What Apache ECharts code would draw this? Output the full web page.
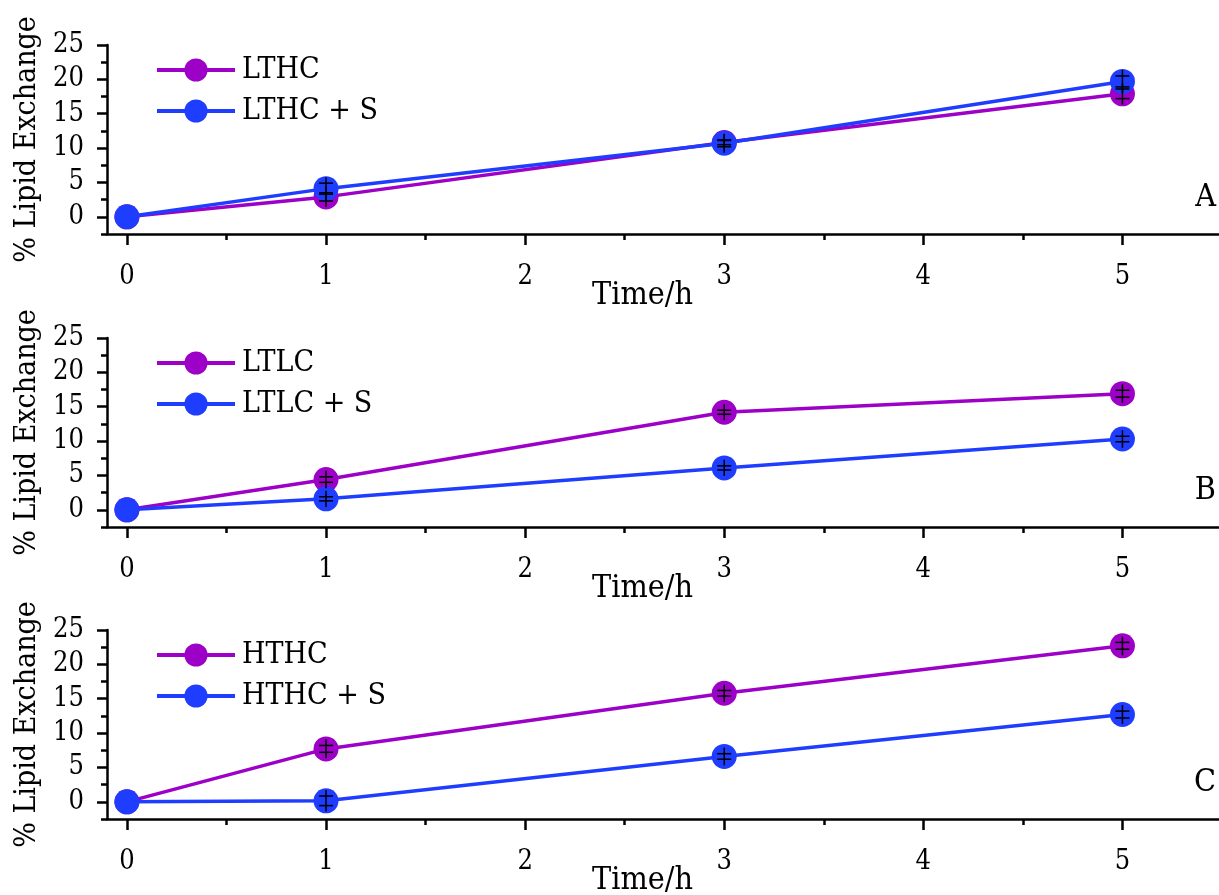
<!DOCTYPE html>
<html>
<head>
<meta charset="utf-8">
<script src="https://cdn.jsdelivr.net/npm/echarts@6/dist/echarts.min.js"></script>
<style>
html,body{margin:0;padding:0;background:#fff;}
#chart{width:1219px;height:895px;}
</style>
</head>
<body>
<div id="chart"></div>
<script>
// ---- data ----
const times = [0, 1, 3, 5];
const xMajorTicks = [0, 1, 2, 3, 4, 5];
const xMinorTicks = [0.5, 1.5, 2.5, 3.5, 4.5];
const yMajorTicks = [0, 5, 10, 15, 20, 25];
const yMinorTicks = [-2.5, 2.5, 7.5, 12.5, 17.5, 22.5];

const panelLabels = ['A', 'B', 'C'];
const seriesNamesA = ['LTHC', 'LTHC + S'];
const seriesNamesB = ['LTLC', 'LTLC + S'];
const seriesNamesC = ['HTHC', 'HTHC + S'];

const lthc = [0, 2.9, 10.8, 17.9];
const lthcS = [0, 4.1, 10.7, 19.7];
const ltlc = [0, 4.4, 14.2, 16.9];
const ltlcS = [0, 1.6, 6.1, 10.3];
const hthc = [0, 7.7, 15.8, 22.7];
const hthcS = [0, 0.15, 6.6, 12.7];

const lthcErr = [0, 0.6, 0.3, 0.7];
const lthcSErr = [0, 0.8, 0.5, 0.8];
const ltlcErr = [0, 0.4, 0.3, 0.5];
const ltlcSErr = [0, 0.3, 0.3, 0.4];
const hthcErr = [0, 0.5, 0.4, 0.5];
const hthcSErr = [0, 0.7, 0.4, 0.5];

// ---- style ----
const FONT = "'DejaVu Serif Condensed', 'DejaVu Serif', 'Liberation Serif', serif";
const TICKFONT = FONT;
const PURPLE = '#9d00c6';
const BLUE = '#1f3dff';
const panels = [
  {names: seriesNamesA, vals: [lthc, lthcS], errs: [lthcErr, lthcSErr], top: 45},
  {names: seriesNamesB, vals: [ltlc, ltlcS], errs: [ltlcErr, ltlcSErr], top: 338},
  {names: seriesNamesC, vals: [hthc, hthcS], errs: [hthcErr, hthcSErr], top: 630}
];
const GRID_H = 189;

const grid = [], xAxis = [], yAxis = [], series = [], legend = [], graphic = [];

panels.forEach((p, i) => {
  grid.push({left: 107, right: -3, top: p.top, height: GRID_H, containLabel: false, outerBoundsMode: 'none'});
  const axisLine = {show: true, onZero: false, lineStyle: {color: '#000', width: 2.5}};
  // main x axis
  xAxis.push({
    type: 'value', gridIndex: i, position: 'bottom', min: -0.1, max: 5.5,
    axisLine: axisLine,
    axisTick: {show: true, length: 11, inside: false, customValues: xMajorTicks, lineStyle: {color: '#000', width: 2.5}},
    axisLabel: {show: true, customValues: xMajorTicks, margin: 29, color: '#000', fontFamily: TICKFONT, fontSize: 27},
    splitLine: {show: false},
    name: 'Time/h', nameLocation: 'middle', nameGap: 46, nameMoveOverlap: false,
    nameTextStyle: {color: '#000', fontFamily: FONT, fontSize: 32, padding: [0, 44, 0, 0]}
  });
  // minor x ticks
  xAxis.push({
    type: 'value', gridIndex: i, position: 'bottom', min: -0.1, max: 5.5,
    axisLine: {show: false, onZero: false},
    axisTick: {show: true, length: 6, inside: false, customValues: xMinorTicks, lineStyle: {color: '#000', width: 2.5}},
    axisLabel: {show: false}, splitLine: {show: false}
  });
  yAxis.push({
    type: 'value', gridIndex: i, position: 'left', min: -2.5, max: 25,
    axisLine: axisLine,
    axisTick: {show: true, length: 10, inside: false, customValues: yMajorTicks, lineStyle: {color: '#000', width: 2.5}},
    axisLabel: {show: true, customValues: yMajorTicks, margin: 23, color: '#000', fontFamily: TICKFONT, fontSize: 27},
    splitLine: {show: false},
    name: '% Lipid Exchange', nameLocation: 'middle', nameGap: 65, nameRotate: 90, nameMoveOverlap: false,
    nameTextStyle: {color: '#000', fontFamily: FONT, fontSize: 30}
  });
  yAxis.push({
    type: 'value', gridIndex: i, position: 'left', min: -2.5, max: 25,
    axisLine: {show: false, onZero: false},
    axisTick: {show: true, length: 6, inside: false, customValues: yMinorTicks, lineStyle: {color: '#000', width: 2.5}},
    axisLabel: {show: false}, splitLine: {show: false}
  });

  const colors = [PURPLE, BLUE];
  p.names.forEach((nm, k) => {
    series.push({
      name: nm, type: 'line', xAxisIndex: 2 * i, yAxisIndex: 2 * i,
      data: times.map((t, j) => [t, p.vals[k][j]]),
      symbol: 'circle', symbolSize: 25, showSymbol: true,
      lineStyle: {color: colors[k], width: 3.5},
      itemStyle: {color: colors[k], borderWidth: 0},
      emphasis: {disabled: true}, animation: false, z: 2 + k
    });
  });
  // error bars
  p.names.forEach((nm, k) => {
    series.push({
      type: 'custom', xAxisIndex: 2 * i, yAxisIndex: 2 * i, z: 10, animation: false, silent: true,
      data: times.map((t, j) => [t, p.vals[k][j], p.errs[k][j]]).filter(d => d[2] > 0),
      renderItem: function (params, api) {
        const x = api.value(0), y = api.value(1), e = api.value(2);
        const hi = api.coord([x, y + e]);
        const lo = api.coord([x, y - e]);
        const c = api.coord([x, y]);
        const w = 7;
        const st = {stroke: '#000', lineWidth: 1.5};
        return {
          type: 'group',
          children: [
            {type: 'line', shape: {x1: c[0], y1: hi[1] - 6, x2: c[0], y2: lo[1] + 6}, style: st},
            {type: 'line', shape: {x1: c[0] - w, y1: hi[1], x2: c[0] + w, y2: hi[1]}, style: st},
            {type: 'line', shape: {x1: c[0] - w, y1: lo[1], x2: c[0] + w, y2: lo[1]}, style: st}
          ]
        };
      }
    });
  });

  legend.push({
    data: p.names, left: 150, top: p.top + 5, orient: 'vertical',
    itemWidth: 78, itemHeight: 29, itemGap: 11,
    lineStyle: {width: 4},
    textStyle: {color: '#000', fontFamily: FONT, fontSize: 30, padding: [0, 0, 0, 2]},
    selectedMode: false
  });

  graphic.push({
    type: 'text', right: 3, top: p.top + 137,
    style: {text: panelLabels[i], fill: '#000', font: '32px ' + FONT}
  });
});

const chart = echarts.init(document.getElementById('chart'), null, {renderer: 'canvas'});
chart.setOption({
  backgroundColor: '#fff',
  animation: false,
  grid: grid, xAxis: xAxis, yAxis: yAxis, series: series, legend: legend, graphic: graphic
});
</script>
</body>
</html>
